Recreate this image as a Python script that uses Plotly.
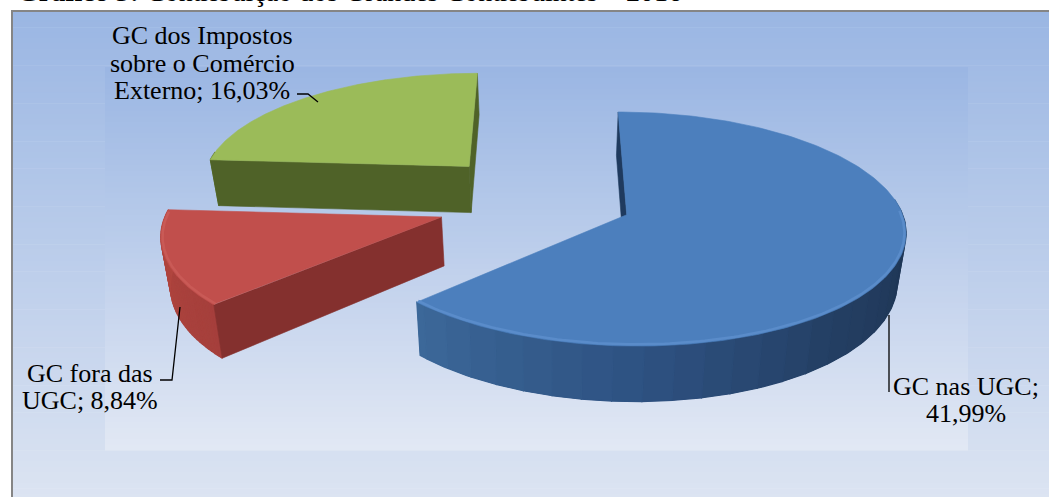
import numpy as np
import textwrap
import plotly.graph_objects as go

# ---------------- data ----------------
categories = ["GC nas UGC", "GC fora das UGC", "GC dos Impostos sobre o Comércio Externo"]
values = [41.99, 8.84, 16.03]
title_bold = "Gráfico 3:"
title_rest = " Contribuição dos Grandes Contribuintes – 2016"

# ---------------- style ----------------
W, H = 1049, 497
top_colors = ["#4C7FBD", "#C14F4C", "#9BBB59"]
bevel_colors = ["#5A8CCA", "#C95A56", "#A5C266"]
cut_colors = ["#1F3A5E", "#84302E", "#4F6228"]
side_stops = [
    [(224, "#3C6899"), (270, "#2E5282"), (310, "#243F64"), (360, "#1D3350")],
    [(176, "#B3473F"), (224, "#A53F3C")],
    [(90, "#5E7530"), (180, "#5E7530")],
]
explode = [0.31, 0.41, 0.44]
wrap_width = [12, 12, 16]
label_pos = [(966, 386), (90, 373), (202, 35.5)]
line_gap = 27.5
CX, CY, RX, RY, K, DEPTH, BS = 548, 201, 272, 112, 0.12, 48, 0.975
START = 90.0
FONT = "Times New Roman, Liberation Serif, serif"


def hex2rgb(h):
    h = h.lstrip("#")
    return np.array([int(h[i:i + 2], 16) for i in (0, 2, 4)], float)


def mix(c1, c2, t):
    c = hex2rgb(c1) * (1 - t) + hex2rgb(c2) * t
    return "rgb(%d,%d,%d)" % tuple(np.round(c))


def stop_color(stops, ang):
    ang = ang % 360
    for (a0, c0), (a1, c1) in zip(stops[:-1], stops[1:]):
        if a0 <= ang <= a1:
            return mix(c0, c1, (ang - a0) / (a1 - a0) if a1 > a0 else 0)
    return stops[0][1] if ang < stops[0][0] else stops[-1][1]


def proj(x, z, bottom=False):
    s = 1.0 / (1.0 + K * z)
    X = CX + RX * x * s
    Y = CY - RY * z * s
    if bottom:
        X = CX + (X - CX) * BS
        Y = Y + DEPTH * s
    return X, Y


fig = go.Figure()


def poly(xs, ys, color, lw=0.6):
    fig.add_trace(go.Scatter(x=list(xs) + [xs[0]], y=list(ys) + [ys[0]], mode="lines",
                             fill="toself", fillcolor=color,
                             line=dict(color=color, width=lw),
                             hoverinfo="skip", showlegend=False))


total = float(sum(values))
slices = []
a = START
for i, v in enumerate(values):
    a1 = a
    a2 = a - 360.0 * v / total
    slices.append((i, a1, a2))
    a = a2

# painter's order: back slice first
order = sorted(slices, key=lambda s: np.sin(np.radians((s[1] + s[2]) / 2)), reverse=True)

for i, a1, a2 in order:
    mid = np.radians((a1 + a2) / 2)
    ox, oz = explode[i] * np.cos(mid), explode[i] * np.sin(mid)
    th = np.radians(np.linspace(a1, a2, 240))
    rx_ = ox + np.cos(th)
    rz_ = oz + np.sin(th)

    # outer side: base polygon then shaded bands
    idx = np.where(np.sin(th) < 0.14)[0]
    if len(idx) > 1:
        seg = np.arange(idx[0], idx[-1] + 1)
        tx, ty = proj(rx_[seg], rz_[seg])
        bx, by = proj(rx_[seg], rz_[seg], bottom=True)
        poly(np.concatenate([tx, bx[::-1]]), np.concatenate([ty, by[::-1]]),
             stop_color(side_stops[i], np.degrees(th[seg].mean())), lw=0)
        step = 6
        for k0 in range(idx[0], idx[-1], step):
            k1 = min(k0 + step + 1, idx[-1] + 1)
            seg = np.arange(k0, k1)
            tx, ty = proj(rx_[seg], rz_[seg])
            bx, by = proj(rx_[seg], rz_[seg], bottom=True)
            col = stop_color(side_stops[i], np.degrees(th[seg].mean()))
            poly(np.concatenate([tx, bx[::-1]]), np.concatenate([ty, by[::-1]]), col, lw=1.2)

    # cut faces
    for ang, nrm in ((a1, a1 + 90), (a2, a2 - 90)):
        if np.sin(np.radians(nrm)) <= 0.01:
            ex, ez = ox + np.cos(np.radians(ang)), oz + np.sin(np.radians(ang))
            p = [proj(ox, oz), proj(ex, ez), proj(ex, ez, True), proj(ox, oz, True)]
            poly([q[0] for q in p], [q[1] for q in p], cut_colors[i])

    # top face
    tx, ty = proj(np.concatenate([[ox], rx_]), np.concatenate([[oz], rz_]))
    poly(tx, ty, top_colors[i])

    # soft bevel along the front rim of the top face
    front = np.where(np.sin(th) < 0.05)[0]
    if len(front) > 1:
        fx, fy = proj(rx_[front] - 0.006 * np.cos(th[front]), rz_[front] - 0.012 * np.sin(th[front]))
        fig.add_trace(go.Scatter(x=fx, y=fy, mode="lines",
                                 line=dict(color=bevel_colors[i], width=2.5),
                                 hoverinfo="skip", showlegend=False))

# ---------------- background ----------------
shapes = []


def gradient(x0, x1, y0, y1, c0, c1, n):
    edges = np.linspace(y0, y1, n + 1)
    for j in range(n):
        col = mix(c0, c1, (j + 0.5) / n)
        shapes.append(dict(type="rect", xref="x", yref="y", x0=x0, x1=x1,
                           y0=edges[j], y1=edges[j + 1] + 0.6, fillcolor=col,
                           line=dict(width=0), layer="below"))


gradient(12, W + 2, 11, H + 2, "#9AB6E3", "#DCE4F2", 90)
gradient(105, 968, 67, 450, "#9AB6E3", "#E2E8F4", 70)
shapes.append(dict(type="path", xref="x", yref="y", path="M 12 %d L 12 11 L %d 11" % (H + 2, W + 2),
                   line=dict(color="#858585", width=2), layer="above"))

# leader lines
leaders = ["M 889 315 L 889 392", "M 160 380 L 172 380 L 180 307", "M 297 94 L 308 94 L 318 102"]
for p in leaders:
    shapes.append(dict(type="path", xref="x", yref="y", path=p,
                       line=dict(color="black", width=1.3), layer="above"))

# ---------------- labels ----------------
annotations = []
for i, name in enumerate(categories):
    txt = "%s; %s%%" % (name, ("%.2f" % values[i]).replace(".", ","))
    lines = textwrap.wrap(txt, wrap_width[i])
    cx, cy = label_pos[i]
    for j, ln in enumerate(lines):
        annotations.append(dict(x=cx, y=cy + j * line_gap, xref="x", yref="y", text=ln,
                                showarrow=False, xanchor="center", yanchor="middle",
                                font=dict(family=FONT, size=26, color="black")))

annotations.append(dict(x=15 / W, y=1 + 8.5 / H, xref="paper", yref="paper",
                        text="<b>%s</b>%s" % (title_bold, title_rest), showarrow=False,
                        xanchor="left", yanchor="middle",
                        font=dict(family=FONT, size=28, color="black")))

fig.update_layout(
    width=W, height=H, margin=dict(l=0, r=0, t=0, b=0),
    paper_bgcolor="white", plot_bgcolor="rgba(0,0,0,0)",
    xaxis=dict(range=[0, W], visible=False, fixedrange=True),
    yaxis=dict(range=[H, 0], visible=False, fixedrange=True),
    shapes=shapes, annotations=annotations, showlegend=False,
)
fig.write_html("out.html", config={"displayModeBar": False},
               post_script="document.body.style.margin='0px';document.body.style.overflow='hidden';")
